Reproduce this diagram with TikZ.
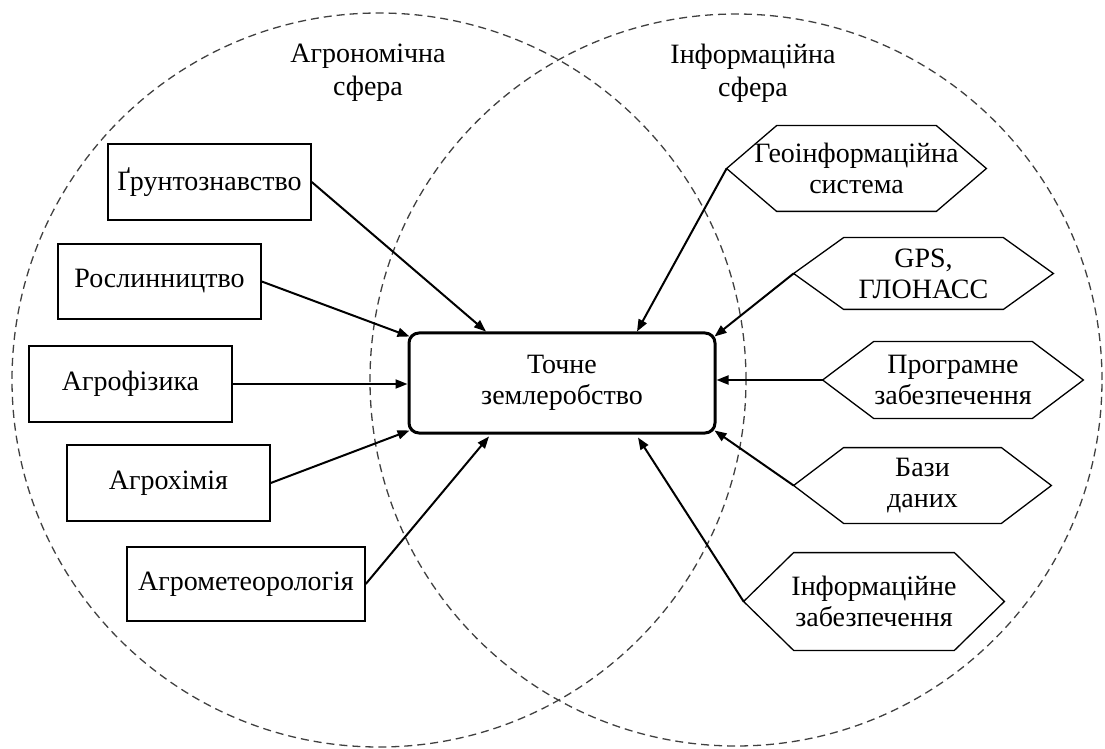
\documentclass[tikz,border=0pt]{standalone}
\usepackage{fontspec}
\setmainfont{Liberation Serif}
\usetikzlibrary{arrows.meta,calc}
\newcommand\hexa[6]{%
  \node[hexn, minimum width=#3, minimum height=#4] (#1) at (#2) {#6};
  \draw[hexline] (#1.west) -- ([xshift=#5]#1.north west) -- ([xshift=-#5]#1.north east)
     -- (#1.east) -- ([xshift=-#5]#1.south east) -- ([xshift=#5]#1.south west) -- cycle;
  \coordinate (#1-l) at (#1.west);}
\begin{document}
\begin{tikzpicture}[x=0.5pt,y=-0.5pt,
  txt/.style={font=\rmfamily\fontsize{14}{15.5}\selectfont, align=center},
  title/.style={font=\rmfamily\fontsize{14}{16.5}\selectfont, align=center},
  box/.style={draw, line width=0.75pt, inner sep=0pt, txt},
  centre/.style={draw, line width=1.5pt, rounded corners=5pt, inner sep=0pt, txt},
  hexn/.style={draw=none, inner sep=0pt, txt},
  hexline/.style={line width=0.65pt, line join=miter},
  sphere/.style={draw=black!75, line width=0.65pt, dash pattern=on 4pt off 2.5pt},
  arr/.style={line width=1pt, -{Triangle[length=6pt,width=4.5pt]}}]
\useasboundingbox (0,0) rectangle (1105,749);
% spheres
\draw[sphere] (379,380) circle[radius=183.5pt];
\draw[sphere] (736,380) circle[radius=183pt];
\node[title] (t1) at (368,73) {Агрономічна\\сфера};
\node[title] (t2) at (753,73) {Інформаційна\\сфера};
% central node
\node[centre, minimum width=153pt, minimum height=50pt] (c) at (562,383) {Точне\\землеробство};
% left boxes
\node[box, minimum width=101.5pt, minimum height=38pt] (gr) at (209.5,182) {Ґрунтознавство};
\node[box, minimum width=101.5pt, minimum height=37.5pt] (ros) at (159.5,281.5) {Рослинництво};
\node[box, minimum width=101.5pt, minimum height=38pt] (af) at (130.5,384) {Агрофізика};
\node[box, minimum width=101.5pt, minimum height=38pt] (ah) at (168.5,483) {Агрохімія};
\node[box, minimum width=119pt, minimum height=37pt] (am) at (246,584) {Агрометеорологія};
% right hexagons
\hexa{geo}{856.5,168.5}{129.5pt}{42.5pt}{25pt}{Геоінформаційна\\система}
\hexa{gps}{923.5,273.5}{129.5pt}{35.5pt}{25pt}{GPS,\\ГЛОНАСС}
\hexa{prog}{953,380}{130pt}{38pt}{25.5pt}{Програмне\\забезпечення}
\hexa{baz}{922.5,485.5}{128.5pt}{37.5pt}{25pt}{Бази\\даних}
\hexa{inf}{874,601.5}{130pt}{48.5pt}{25pt}{Інформаційне\\забезпечення}
% arrows
\draw[arr] (gr.east) -- ($(c.north)+(-76,0)$);
\draw[arr] (ros.east) -- ($(c.north west)+(2,5)$);
\draw[arr] (af.east) -- (af.east -| c.west);
\draw[arr] (ah.east) -- ($(c.south west)+(2,-4)$);
\draw[arr] (am.east) -- ($(c.south)+(-73,2)$);
\draw[arr] (geo-l) -- ($(c.north)+(75,0)$);
\draw[arr] (gps-l) -- ($(c.north east)+(-2,5)$);
\draw[arr] (prog-l) -- (prog-l -| c.east);
\draw[arr] (baz-l) -- ($(c.south east)+(-2,-4)$);
\draw[arr] (inf-l) -- ($(c.south)+(76,3)$);
\end{tikzpicture}
\end{document}
